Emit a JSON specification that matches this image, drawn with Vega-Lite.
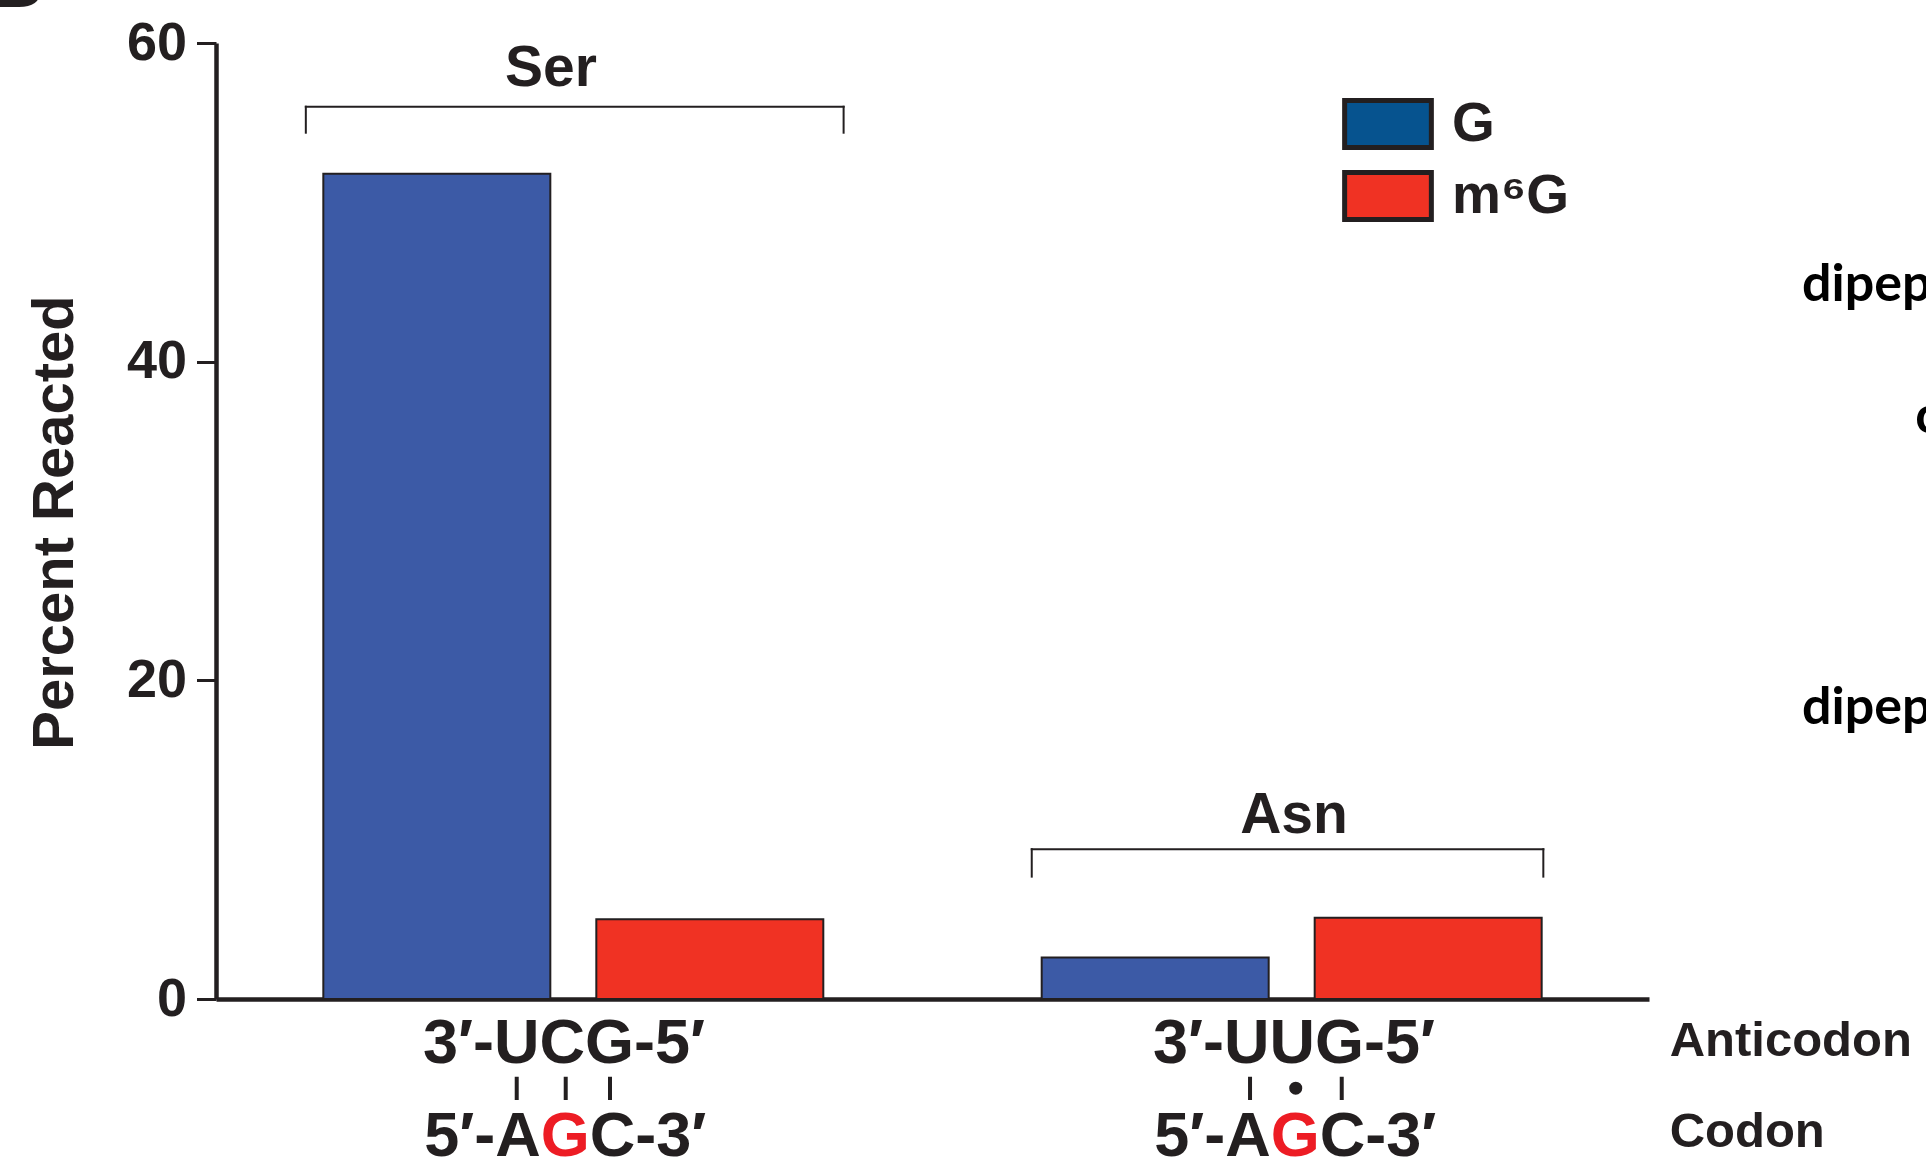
{
  "$schema": "https://vega.github.io/schema/vega-lite/v6.json",
  "width": 1433,
  "height": 956,
  "autosize": {"type": "none"},
  "padding": {"left": 216, "top": 43, "right": 277, "bottom": 166},
  "background": "white",
  "config": {"view": {"stroke": null}},
  "resolve": {"scale": {"color": "independent"}, "legend": {"color": "independent"}},
  "datasets": {
    "bars": [
      {"amino": "Ser", "base": "G", "percent": 51.8},
      {"amino": "Ser", "base": "m6G", "percent": 5.0},
      {"amino": "Asn", "base": "G", "percent": 2.6},
      {"amino": "Asn", "base": "m6G", "percent": 5.1}
    ],
    "seq": [
      {"amino": "Ser", "anticodon": "3′-UCG-5′", "codon5": "5′-A", "wobble": "G", "codon3": "C-3′"},
      {"amino": "Asn", "anticodon": "3′-UUG-5′", "codon5": "5′-A", "wobble": "G", "codon3": "C-3′"}
    ],
    "notes": [
      {"key": "anticodon", "label": "Anticodon"},
      {"key": "codon", "label": "Codon"},
      {"key": "top", "label": "dipeptide"},
      {"key": "mid", "label": "c"},
      {"key": "bottom", "label": "dipeptide"},
      {"key": "panel", "label": "B"}
    ]
  },
  "layer": [
    {
      "data": {"name": "bars"},
      "mark": {"type": "bar", "stroke": "#231f20", "strokeWidth": 2},
      "encoding": {
        "x": {"field": "amino", "type": "nominal", "title": null,
          "scale": {"domain": ["Ser", "Asn"], "paddingInner": 0.304, "paddingOuter": 0.1494},
          "axis": {"title": null, "labels": false, "ticks": false, "grid": false, "domainColor": "#231f20", "domainWidth": 4.5}},
        "xOffset": {"field": "base", "type": "nominal",
          "scale": {"domain": ["G", "m6G"], "paddingInner": 0.1685, "paddingOuter": 0}},
        "y": {"field": "percent", "type": "quantitative", "title": "Percent Reacted",
          "scale": {"domain": [0, 60], "nice": false},
          "axis": {"title": "Percent Reacted", "values": [0, 20, 40, 60], "grid": false,
            "domainColor": "#231f20", "domainWidth": 4.5, "tickColor": "#231f20", "tickWidth": 3, "tickSize": 19.5,
            "labelFont": "Liberation Sans", "labelFontWeight": "bold", "labelFontSize": 54, "labelColor": "#231f20",
            "labelPadding": 10, "labelFlush": false, "labelOverlap": false,
            "titleFont": "Liberation Sans", "titleFontWeight": "bold", "titleFontSize": 58, "titleColor": "#231f20",
            "titleAngle": 270, "titleX": -144, "titleY": 479, "titleAlign": "center", "titleBaseline": "alphabetic"}},
        "color": {"field": "base", "type": "nominal",
          "scale": {"domain": ["G", "m6G"], "range": ["#3c5aa6", "#f03223"]},
          "legend": null}
      }
    },
    {
      "data": {"name": "bars"},
      "mark": {"type": "text", "text": ""},
      "encoding": {
        "x": {"field": "amino", "type": "nominal", "title": null},
        "y": {"field": "percent", "type": "quantitative", "title": "Percent Reacted"},
        "color": {"field": "base", "type": "nominal",
          "scale": {"domain": ["G", "m6G"], "range": ["#06538f", "#f03223"]},
          "legend": {"orient": "none", "legendX": 1142, "legendY": 51, "title": null, "padding": 0,
            "symbolType": "M-1.6,-0.867H1.6V0.867H-1.6Z", "symbolSize": 2938,
            "symbolStrokeColor": "#231f20", "symbolStrokeWidth": 5, "symbolOpacity": 1,
            "labelFont": "Liberation Sans", "labelFontWeight": "bold", "labelFontSize": 55, "labelColor": "#231f20",
            "labelOffset": 34, "rowPadding": 4,
            "labelExpr": "datum.label == 'm6G' ? 'm⁶G' : datum.label"}}
      }
    },
    {
      "data": {"name": "seq"}, "transform": [{"filter": "datum.amino == 'Ser'"}],
      "mark": {"type": "rule", "color": "#231f20", "strokeWidth": 2, "strokeCap": "square"},
      "encoding": {"x": {"datum": "Ser", "bandPosition": -0.035}, "x2": {"datum": "Ser", "bandPosition": 1.0406}, "y": {"datum": 56.0}}
    },
    {
      "data": {"name": "seq"}, "transform": [{"filter": "datum.amino == 'Ser'"}],
      "mark": {"type": "rule", "color": "#231f20", "strokeWidth": 2, "strokeCap": "square"},
      "encoding": {"x": {"datum": "Ser", "bandPosition": -0.035}, "y": {"datum": 56.0}, "y2": {"datum": 54.37}}
    },
    {
      "data": {"name": "seq"}, "transform": [{"filter": "datum.amino == 'Ser'"}],
      "mark": {"type": "rule", "color": "#231f20", "strokeWidth": 2, "strokeCap": "square"},
      "encoding": {"x": {"datum": "Ser", "bandPosition": 1.0406}, "y": {"datum": 56.0}, "y2": {"datum": 54.37}}
    },
    {
      "data": {"name": "seq"}, "transform": [{"filter": "datum.amino == 'Asn'"}],
      "mark": {"type": "rule", "color": "#231f20", "strokeWidth": 2, "strokeCap": "square"},
      "encoding": {"x": {"datum": "Asn", "bandPosition": -0.0199}, "x2": {"datum": "Asn", "bandPosition": 1.0033}, "y": {"datum": 9.4}}
    },
    {
      "data": {"name": "seq"}, "transform": [{"filter": "datum.amino == 'Asn'"}],
      "mark": {"type": "rule", "color": "#231f20", "strokeWidth": 2, "strokeCap": "square"},
      "encoding": {"x": {"datum": "Asn", "bandPosition": -0.0199}, "y": {"datum": 9.4}, "y2": {"datum": 7.68}}
    },
    {
      "data": {"name": "seq"}, "transform": [{"filter": "datum.amino == 'Asn'"}],
      "mark": {"type": "rule", "color": "#231f20", "strokeWidth": 2, "strokeCap": "square"},
      "encoding": {"x": {"datum": "Asn", "bandPosition": 1.0033}, "y": {"datum": 9.4}, "y2": {"datum": 7.68}}
    },
    {
      "data": {"name": "seq"}, "transform": [{"filter": "datum.amino == 'Ser'"}],
      "mark": {"type": "text", "font": "Liberation Sans", "fontWeight": "bold", "fontSize": 57, "color": "#231f20", "align": "center", "baseline": "alphabetic"},
      "encoding": {"x": {"datum": "Ser", "bandPosition": 0.4554}, "y": {"datum": 57.33}, "text": {"field": "amino"}}
    },
    {
      "data": {"name": "seq"}, "transform": [{"filter": "datum.amino == 'Asn'"}],
      "mark": {"type": "text", "font": "Liberation Sans", "fontWeight": "bold", "fontSize": 57, "color": "#231f20", "align": "center", "baseline": "alphabetic"},
      "encoding": {"x": {"datum": "Asn", "bandPosition": 0.5047}, "y": {"datum": 10.44}, "text": {"field": "amino"}}
    },
    {
      "data": {"name": "seq"}, "transform": [{"filter": "datum.amino == 'Ser'"}],
      "mark": {"type": "text", "font": "Liberation Sans", "fontWeight": "bold", "fontSize": 63, "color": "#231f20", "align": "center", "baseline": "alphabetic"},
      "encoding": {"x": {"datum": "Ser", "bandPosition": 0.4814}, "y": {"datum": -4.04}, "text": {"field": "anticodon"}}
    },
    {
      "data": {"name": "seq"}, "transform": [{"filter": "datum.amino == 'Asn'"}],
      "mark": {"type": "text", "font": "Liberation Sans", "fontWeight": "bold", "fontSize": 63, "color": "#231f20", "align": "center", "baseline": "alphabetic"},
      "encoding": {"x": {"datum": "Asn", "bandPosition": 0.5047}, "y": {"datum": -4.04}, "text": {"field": "anticodon"}}
    },
    {
      "data": {"name": "seq"}, "transform": [{"filter": "datum.amino == 'Ser'"}],
      "mark": {"type": "text", "font": "Liberation Sans", "fontWeight": "bold", "fontSize": 63, "color": "#231f20", "align": "right", "baseline": "alphabetic"},
      "encoding": {"x": {"datum": "Ser", "bandPosition": 0.435}, "y": {"datum": -9.85}, "text": {"field": "codon5"}}
    },
    {
      "data": {"name": "seq"}, "transform": [{"filter": "datum.amino == 'Ser'"}],
      "mark": {"type": "text", "font": "Liberation Sans", "fontWeight": "bold", "fontSize": 63, "color": "#ed1c24", "align": "center", "baseline": "alphabetic"},
      "encoding": {"x": {"datum": "Ser", "bandPosition": 0.484}, "y": {"datum": -9.85}, "text": {"field": "wobble"}}
    },
    {
      "data": {"name": "seq"}, "transform": [{"filter": "datum.amino == 'Ser'"}],
      "mark": {"type": "text", "font": "Liberation Sans", "fontWeight": "bold", "fontSize": 63, "color": "#231f20", "align": "left", "baseline": "alphabetic"},
      "encoding": {"x": {"datum": "Ser", "bandPosition": 0.533}, "y": {"datum": -9.85}, "text": {"field": "codon3"}}
    },
    {
      "data": {"name": "seq"}, "transform": [{"filter": "datum.amino == 'Asn'"}],
      "mark": {"type": "text", "font": "Liberation Sans", "fontWeight": "bold", "fontSize": 63, "color": "#231f20", "align": "right", "baseline": "alphabetic"},
      "encoding": {"x": {"datum": "Asn", "bandPosition": 0.4583}, "y": {"datum": -9.85}, "text": {"field": "codon5"}}
    },
    {
      "data": {"name": "seq"}, "transform": [{"filter": "datum.amino == 'Asn'"}],
      "mark": {"type": "text", "font": "Liberation Sans", "fontWeight": "bold", "fontSize": 63, "color": "#ed1c24", "align": "center", "baseline": "alphabetic"},
      "encoding": {"x": {"datum": "Asn", "bandPosition": 0.5073}, "y": {"datum": -9.85}, "text": {"field": "wobble"}}
    },
    {
      "data": {"name": "seq"}, "transform": [{"filter": "datum.amino == 'Asn'"}],
      "mark": {"type": "text", "font": "Liberation Sans", "fontWeight": "bold", "fontSize": 63, "color": "#231f20", "align": "left", "baseline": "alphabetic"},
      "encoding": {"x": {"datum": "Asn", "bandPosition": 0.5563}, "y": {"datum": -9.85}, "text": {"field": "codon3"}}
    },
    {
      "data": {"name": "seq"}, "transform": [{"filter": "datum.amino == 'Ser'"}],
      "mark": {"type": "rule", "color": "#231f20", "strokeWidth": 4},
      "encoding": {"x": {"datum": "Ser", "bandPosition": 0.3868}, "y": {"datum": -4.88}, "y2": {"datum": -6.34}}
    },
    {
      "data": {"name": "seq"}, "transform": [{"filter": "datum.amino == 'Ser'"}],
      "mark": {"type": "rule", "color": "#231f20", "strokeWidth": 4},
      "encoding": {"x": {"datum": "Ser", "bandPosition": 0.4848}, "y": {"datum": -4.88}, "y2": {"datum": -6.34}}
    },
    {
      "data": {"name": "seq"}, "transform": [{"filter": "datum.amino == 'Ser'"}],
      "mark": {"type": "rule", "color": "#231f20", "strokeWidth": 4},
      "encoding": {"x": {"datum": "Ser", "bandPosition": 0.5734}, "y": {"datum": -4.88}, "y2": {"datum": -6.34}}
    },
    {
      "data": {"name": "seq"}, "transform": [{"filter": "datum.amino == 'Asn'"}],
      "mark": {"type": "rule", "color": "#231f20", "strokeWidth": 4},
      "encoding": {"x": {"datum": "Asn", "bandPosition": 0.4167}, "y": {"datum": -4.88}, "y2": {"datum": -6.34}}
    },
    {
      "data": {"name": "seq"}, "transform": [{"filter": "datum.amino == 'Asn'"}],
      "mark": {"type": "point", "filled": true, "color": "#231f20", "opacity": 1, "size": 170},
      "encoding": {"x": {"datum": "Asn", "bandPosition": 0.5081}, "y": {"datum": -5.6}}
    },
    {
      "data": {"name": "seq"}, "transform": [{"filter": "datum.amino == 'Asn'"}],
      "mark": {"type": "rule", "color": "#231f20", "strokeWidth": 4},
      "encoding": {"x": {"datum": "Asn", "bandPosition": 0.6001}, "y": {"datum": -4.88}, "y2": {"datum": -6.34}}
    },
    {
      "data": {"name": "notes"}, "transform": [{"filter": "datum.key == 'anticodon'"}],
      "mark": {"type": "text", "font": "Liberation Sans", "fontWeight": "bold", "fontSize": 49, "color": "#231f20", "align": "left", "baseline": "alphabetic"},
      "encoding": {"x": {"datum": "Asn", "bandPosition": 1.256}, "y": {"datum": -3.58}, "text": {"field": "label"}}
    },
    {
      "data": {"name": "notes"}, "transform": [{"filter": "datum.key == 'codon'"}],
      "mark": {"type": "text", "font": "Liberation Sans", "fontWeight": "bold", "fontSize": 49, "color": "#231f20", "align": "left", "baseline": "alphabetic"},
      "encoding": {"x": {"datum": "Asn", "bandPosition": 1.256}, "y": {"datum": -9.27}, "text": {"field": "label"}}
    },
    {
      "data": {"name": "notes"}, "transform": [{"filter": "datum.key == 'top'"}],
      "mark": {"type": "text", "font": "Lato", "fontWeight": "bold", "fontSize": 52, "color": "#000000", "align": "left", "baseline": "alphabetic"},
      "encoding": {"x": {"datum": "Asn", "bandPosition": 1.5207}, "y": {"datum": 43.81}, "text": {"field": "label"}}
    },
    {
      "data": {"name": "notes"}, "transform": [{"filter": "datum.key == 'mid'"}],
      "mark": {"type": "text", "font": "Lato", "fontWeight": "bold", "fontSize": 52, "color": "#000000", "align": "left", "baseline": "alphabetic"},
      "encoding": {"x": {"datum": "Asn", "bandPosition": 1.747}, "y": {"datum": 35.52}, "text": {"field": "label"}}
    },
    {
      "data": {"name": "notes"}, "transform": [{"filter": "datum.key == 'bottom'"}],
      "mark": {"type": "text", "font": "Lato", "fontWeight": "bold", "fontSize": 52, "color": "#000000", "align": "left", "baseline": "alphabetic"},
      "encoding": {"x": {"datum": "Asn", "bandPosition": 1.5207}, "y": {"datum": 17.23}, "text": {"field": "label"}}
    },
    {
      "data": {"name": "notes"}, "transform": [{"filter": "datum.key == 'panel'"}],
      "mark": {"type": "text", "font": "Liberation Sans", "fontWeight": "bold", "fontSize": 80, "color": "#231f20", "align": "right", "baseline": "alphabetic"},
      "encoding": {"x": {"datum": "Ser", "bandPosition": -0.5586}, "y": {"datum": 62.26}, "text": {"field": "label"}}
    }
  ]
}
